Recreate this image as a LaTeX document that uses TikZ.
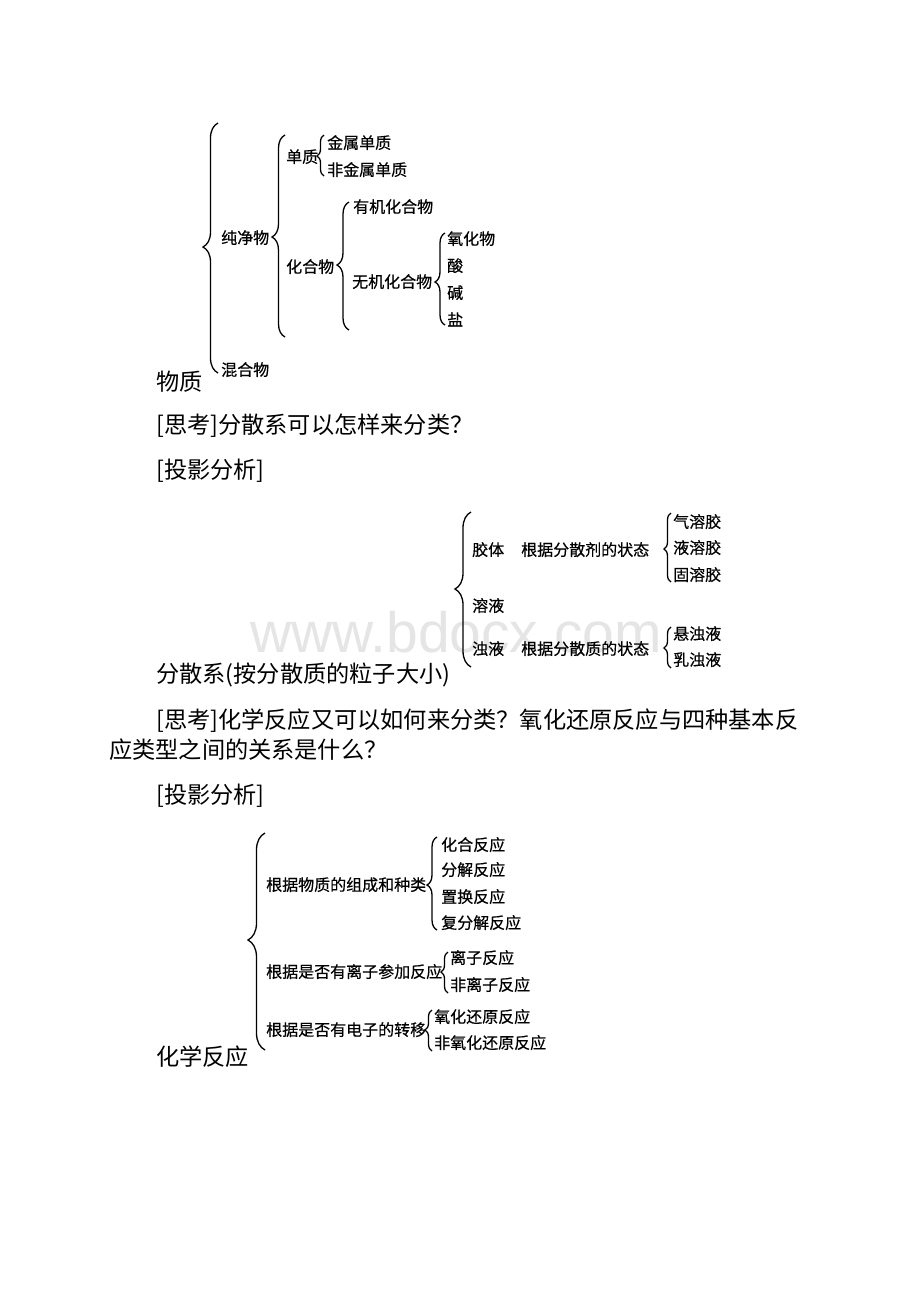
\documentclass[tikz,border=0pt]{standalone}
\usepackage{fontspec}
\setmainfont{Noto Sans CJK SC}
\newfontfamily\lblfont[FakeBold=0.4]{Noto Sans CJK SC}
\newfontfamily\wmfont{Liberation Sans}
\usetikzlibrary{decorations.pathreplacing}
% #1 x of brace ends, #2 top y, #3 bottom y, #4 tip y, #5 amplitude
\newcommand{\mybrace}[5]{%
  \pgfmathsetmacro{\myasp}{(#3-#4)/(#3-#2)}%
  \draw[bracestyle, decoration={brace, amplitude=#5pt, aspect=\myasp}] (#1,#3) -- (#1,#2);%
}
\begin{document}
\begin{tikzpicture}[x=1pt,y=-1pt,
  lbl/.style={anchor=west, inner sep=0pt, font=\lblfont\fontsize{16}{16}\selectfont, text height=13pt, text depth=1.6pt},
  body/.style={anchor=west, inner sep=0pt, font=\fontsize{23.2}{24}\selectfont, text height=19.2pt, text depth=2.4pt},
  bracestyle/.style={line width=1.3pt, decorate},
  wm/.style={anchor=base west, inner sep=0pt, text=black!10, font=\wmfont\fontsize{57}{57}\selectfont}]
\fill[white] (0,0) rectangle (920,1302);
\useasboundingbox (0,0) rectangle (920,1302);

% watermark
\node[wm] (watermark) at (250,652) {www.bdocx.com};

% ---------- Section 1 ----------
\node[lbl] (cjw) at (221,238) {纯净物};
\node[lbl] (hhw) at (221,370) {混合物};
\node[lbl] (dz) at (286,157) {单质};
\node[lbl] (jsdz) at (327,143) {金属单质};
\node[lbl] (fjsdz) at (327,170) {非金属单质};
\node[lbl] (hhw2) at (286,267) {化合物};
\node[lbl] (yj) at (353,207) {有机化合物};
\node[lbl] (wj) at (352,282) {无机化合物};
\node[lbl] (yhw) at (447,239) {氧化物};
\node[lbl] (suan) at (447,266) {酸};
\node[lbl] (jian) at (447,293) {碱};
\node[lbl] (yan) at (447,320) {盐};
\node[body] (wz) at (156,382) {物质};

\mybrace{218}{123}{373}{247}{15}
\mybrace{285}{135}{337}{237}{13}
\mybrace{324}{135}{176}{156}{7}
\mybrace{349}{202}{330}{265}{12}
\mybrace{445}{233}{325}{282}{10}

% ---------- text ----------
\node[body] (sk1) at (156,425) {[思考]分散系可以怎样来分类？};
\node[body] (ty1) at (156,470) {[投影分析]};

% ---------- Section 2 ----------
\node[lbl] (jt) at (472,550) {胶体};
\node[lbl] (gj1) at (521,550) {根据分散剂的状态};
\node[lbl] (qrj) at (673,522) {气溶胶};
\node[lbl] (yrj) at (673,548) {液溶胶};
\node[lbl] (grj) at (673,575) {固溶胶};
\node[lbl] (ry) at (472,606) {溶液};
\node[lbl] (zy) at (472,649) {浊液};
\node[lbl] (gj2) at (521,649) {根据分散质的状态};
\node[lbl] (xzy) at (673,634) {悬浊液};
\node[lbl] (rzy) at (673,660) {乳浊液};
\node[body] (fsx) at (156,674) {分散系(按分散质的粒子大小)};

\mybrace{471}{512}{667}{589}{16}
\mybrace{671}{513}{582}{549}{7}
\mybrace{671}{627}{668}{648}{7}

% ---------- text ----------
\node[body] (sk2a) at (156,720) {[思考]化学反应又可以如何来分类？氧化还原反应与四种基本反};
\node[body] (sk2b) at (109,750) {应类型之间的关系是什么？};
\node[body] (ty2) at (156,795) {[投影分析]};

% ---------- Section 3 ----------
\node[lbl] (r1) at (266,885) {根据物质的组成和种类};
\node[lbl] (hh) at (441,845) {化合反应};
\node[lbl] (fj) at (441,870) {分解反应};
\node[lbl] (zh) at (441,897) {置换反应};
\node[lbl] (ffj) at (441,923) {复分解反应};
\node[lbl] (r2) at (266,972) {根据是否有离子参加反应};
\node[lbl] (lz) at (450,958) {离子反应};
\node[lbl] (flz) at (450,985) {非离子反应};
\node[lbl] (r3) at (266,1030) {根据是否有电子的转移};
\node[lbl] (yh) at (434,1017) {氧化还原反应};
\node[lbl] (fyh) at (434,1043) {非氧化还原反应};
\node[body] (hxfy) at (156,1057) {化学反应};

\mybrace{265}{833}{1050}{940}{17}
\mybrace{437}{837}{930}{885}{10}
\mybrace{448}{952}{993}{972}{7}
\mybrace{432}{1010}{1051}{1030}{7}
\end{tikzpicture}
\end{document}
